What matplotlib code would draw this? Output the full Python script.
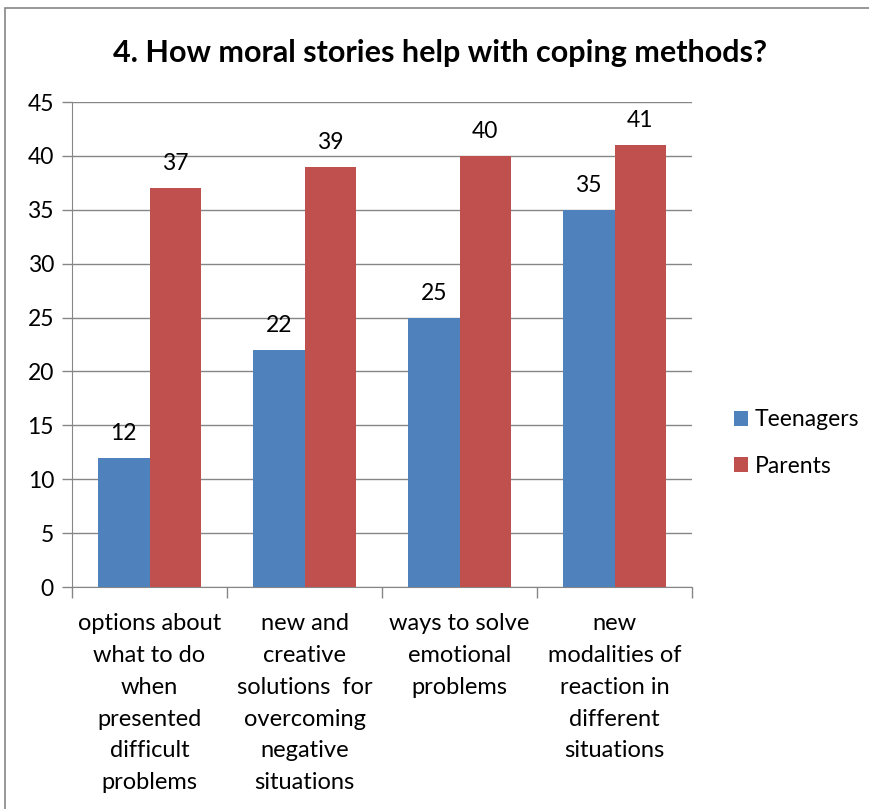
import matplotlib
matplotlib.use("Agg")
import matplotlib.pyplot as plt
import numpy as np
from matplotlib.patches import Rectangle

# data
categories = ["options about\nwhat to do\nwhen\npresented\ndifficult\nproblems",
              "new and\ncreative\nsolutions  for\novercoming\nnegative\nsituations",
              "ways to solve\nemotional\nproblems",
              "new\nmodalities of\nreaction in\ndifferent\nsituations"]
teenagers = [12, 22, 25, 35]
parents = [37, 39, 40, 41]
series_names = ["Teenagers", "Parents"]

plt.rcParams['font.family'] = ['Lato', 'DejaVu Sans']

fig = plt.figure(figsize=(8.69, 8.09), dpi=100)
ax = fig.add_axes([0.0829, 0.2744, 0.7135, 0.5995])

x = np.arange(len(categories))
w = 1 / 3
b1 = ax.bar(x - w / 2, teenagers, w, color="#4F81BD", label=series_names[0], zorder=3)
b2 = ax.bar(x + w / 2, parents, w, color="#C0504D", label=series_names[1], zorder=3)

for bars, vals in ((b1, teenagers), (b2, parents)):
    for r, v in zip(bars, vals):
        ax.text(r.get_x() + r.get_width() / 2, v + 1.3, str(v), ha="center", va="bottom", fontsize=16.5)

ax.set_xlim(-0.5, len(categories) - 0.5)
ax.set_ylim(0, 45)
ax.set_yticks(range(0, 46, 5))
ax.yaxis.grid(True, color="#868686", linewidth=1, zorder=0)
ax.tick_params(axis="y", labelsize=16.5, length=7, color="#868686", width=1, pad=6)
ax.set_xticks(x)
ax.set_xticklabels(categories, fontsize=17, linespacing=1.63)
ax.tick_params(axis="x", length=0, pad=19)
ax.set_xticks(np.arange(-0.5, len(categories)), minor=True)
ax.tick_params(axis="x", which="minor", length=8, color="#868686", width=1)
for s in ("top", "right"):
    ax.spines[s].set_visible(False)
for s in ("left", "bottom"):
    ax.spines[s].set_color("#868686")

fig.text(0.506, 0.935, "4. How moral stories help with coping methods?", ha="center", va="center",
         fontsize=22, fontweight="bold")

ax.legend(loc="center left", bbox_to_anchor=(1.035, 0.297), frameon=False, fontsize=16.5,
          handlelength=0.6, handleheight=0.6, handletextpad=0.3, labelspacing=1.1)

fig.patches.append(Rectangle((5 / 869, -0.1), 2, 1.1 - 8 / 809, transform=fig.transFigure,
                             fill=False, edgecolor="#868686", linewidth=1.2))

fig.savefig("out.png", dpi=100)
